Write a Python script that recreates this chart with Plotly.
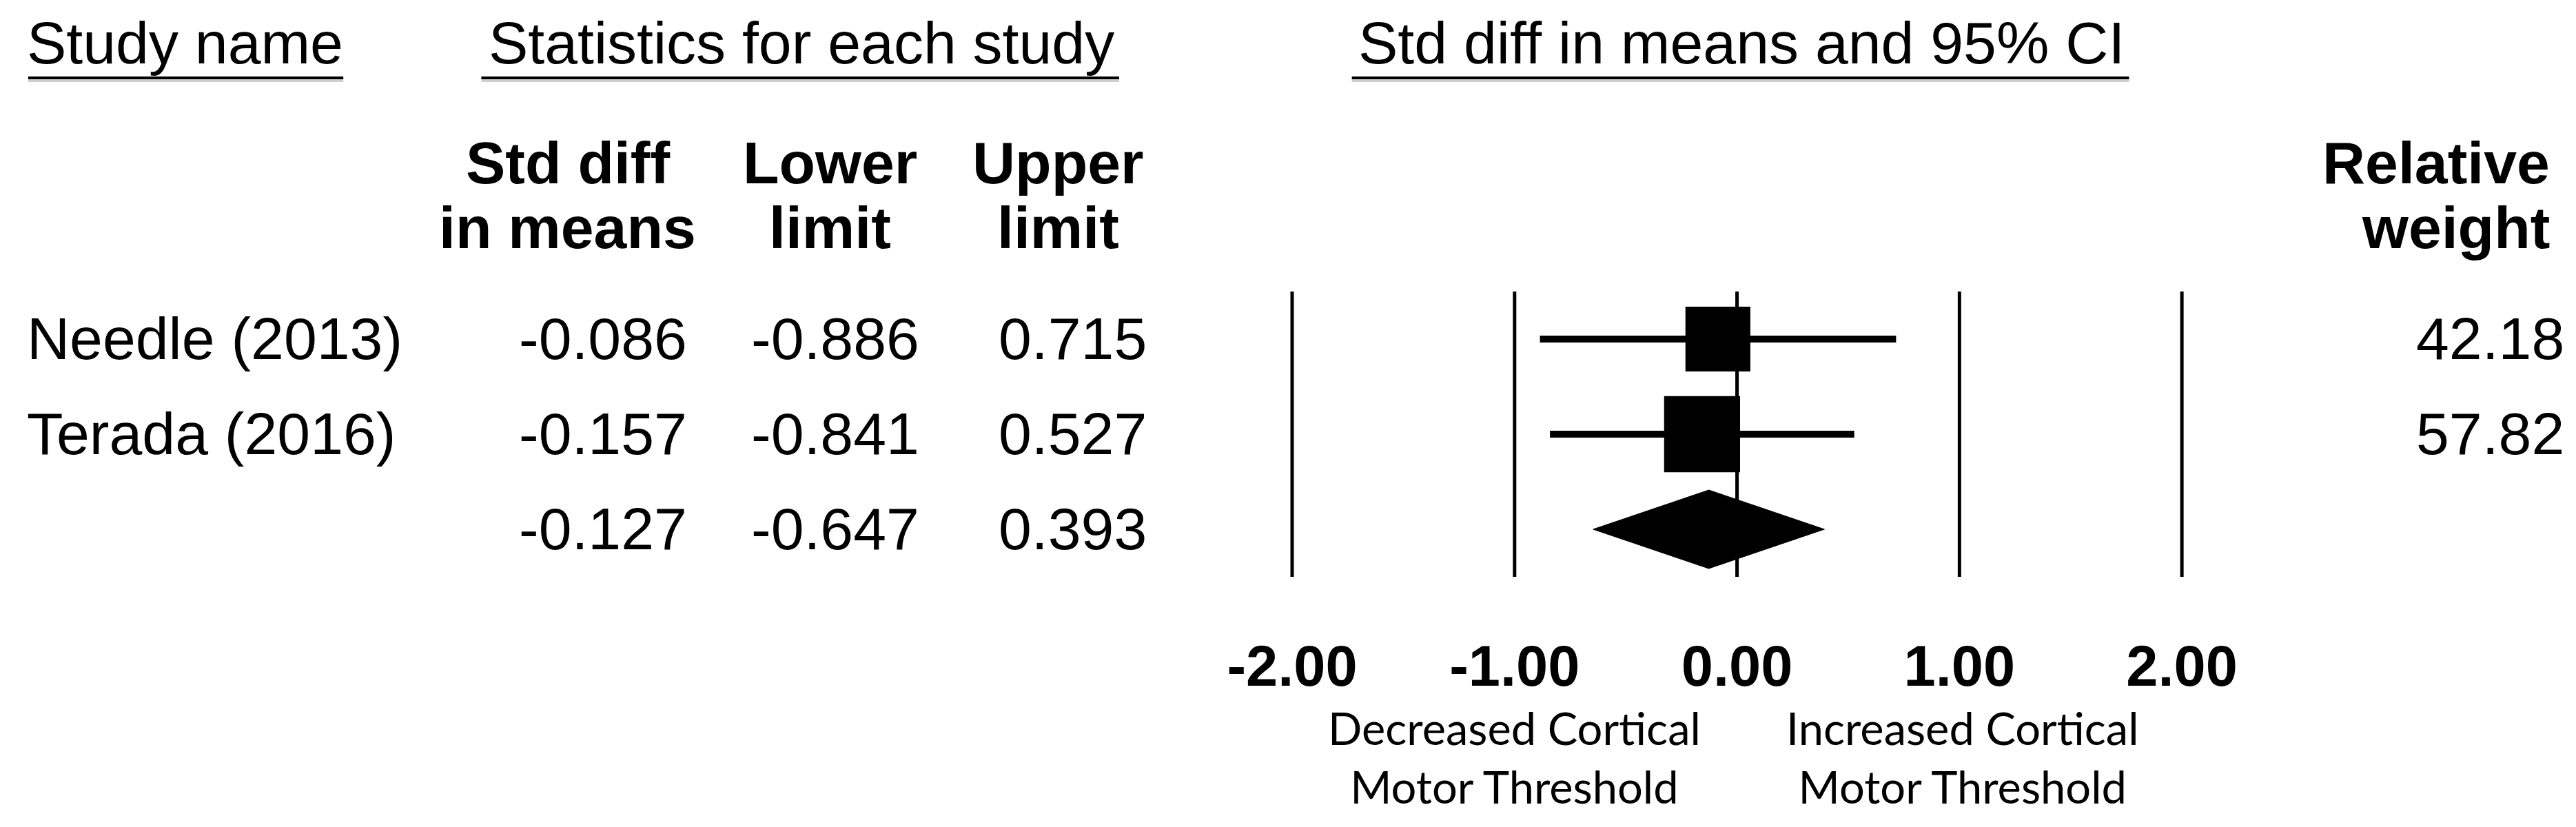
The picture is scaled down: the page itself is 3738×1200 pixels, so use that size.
import plotly.graph_objects as go

# ---- data ----
studies = ["Needle (2013)", "Terada (2016)"]
std_diff = [-0.086, -0.157]
lower_limit = [-0.886, -0.841]
upper_limit = [0.715, 0.527]
rel_weight = [42.18, 57.82]

summary_est = -0.127
summary_lower = -0.647
summary_upper = 0.393

ref_lines = [-2, -1, 0, 1, 2]

# page body has an 8px margin, so the figure is drawn 16px smaller and offset
PAGE_W, PAGE_H, BODY = 3738, 1200, 8
W, H = PAGE_W - 2 * BODY, PAGE_H - 2 * BODY
ROW0, ROWH = 492, 138          # pixel y of first row, row spacing (page coords)
FONT = "Arial, Liberation Sans, sans-serif"
CAPTION_FONT = "Lato, Open Sans, sans-serif"
FS = 86


def px(x):
    return (x - BODY) / W


def py(y):
    return 1 - (y - BODY) / H


def row_of(ypix):
    return (ypix - ROW0) / ROWH


n = len(studies)
summary_row = n

data = []

# reference lines
for v in ref_lines:
    data.append(go.Scatter(x=[v, v], y=[-0.5, summary_row + 0.5], mode="lines",
                           line=dict(color="black", width=5), hoverinfo="skip"))

# CI whiskers
for i in range(n):
    data.append(go.Scatter(x=[lower_limit[i], upper_limit[i]], y=[i, i], mode="lines",
                           line=dict(color="black", width=10), hoverinfo="skip"))

# point estimates, box size by weight
data.append(go.Scatter(x=std_diff, y=list(range(n)), mode="markers", opacity=1,
                       marker=dict(symbol="square", color="#000000", opacity=1,
                                   size=[14.5 * w ** 0.5 for w in rel_weight],
                                   line=dict(width=0)),
                       hoverinfo="skip"))

# summary diamond
dh = 0.413
data.append(go.Scatter(x=[summary_lower, summary_est, summary_upper, summary_est, summary_lower],
                       y=[summary_row, summary_row - dh, summary_row, summary_row + dh, summary_row],
                       mode="lines", fill="toself", fillcolor="black",
                       line=dict(color="black", width=1), hoverinfo="skip"))

annotations = []


def text(x, y, s, xanchor="left", yref="paper", size=FS, family=FONT, yshift=1):
    annotations.append(dict(x=x, y=y, xref="paper", yref=yref, text=s, showarrow=False,
                            xanchor=xanchor, yanchor="middle", yshift=yshift,
                            font=dict(family=family, size=size, color="black")))


# top headers
text(px(23), py(63), "Study name")
text(px(696), py(63), "Statistics for each study")
text(px(1962), py(63), "Std diff in means and 95% CI")

# column headers
for cx, l1, l2 in [(813, "Std diff", "in means"), (1195, "Lower", "limit"), (1527, "Upper", "limit")]:
    text(px(cx), py(237), "<b>%s</b>" % l1, xanchor="center")
    text(px(cx), py(331), "<b>%s</b>" % l2, xanchor="center")
text(px(3702), py(237), "<b>Relative</b>", xanchor="right")
text(px(3702), py(331), "<b>weight</b>", xanchor="right")

# rows
col_right = [989, 1327, 1658]
for i in range(n):
    text(px(23), i, studies[i], yref="y")
    for cx, v in zip(col_right, [std_diff[i], lower_limit[i], upper_limit[i]]):
        text(px(cx), i, "%.3f" % v, xanchor="right", yref="y")
    text(px(3723), i, "%.2f" % rel_weight[i], xanchor="right", yref="y")
for cx, v in zip(col_right, [summary_est, summary_lower, summary_upper]):
    text(px(cx), summary_row, "%.3f" % v, xanchor="right", yref="y")

# captions under the axis
text(px(2192), py(1101), "Decreased Cortical<br>Motor Threshold", xanchor="center",
     size=65, family=CAPTION_FONT, yshift=3)
text(px(2845), py(1101), "Increased Cortical<br>Motor Threshold", xanchor="center",
     size=65, family=CAPTION_FONT, yshift=3)

# header underlines with a faint shadow
shapes = []
for x0, x1 in [(27, 486), (687, 1616), (1955, 3087)]:
    shapes.append(dict(type="line", xref="paper", yref="paper", x0=px(x0), x1=px(x1),
                       y0=py(117), y1=py(117), line=dict(color="#cfcfcf", width=4)))
    shapes.append(dict(type="line", xref="paper", yref="paper", x0=px(x0), x1=px(x1),
                       y0=py(113), y1=py(113), line=dict(color="black", width=4)))

plot_bottom = 911
x_left = 1868 - 0.25 * 324
x_right = 3164 + 0.25 * 324

layout = go.Layout(
    width=W, height=H,
    margin=dict(l=0, r=0, t=0, b=0),
    paper_bgcolor="white", plot_bgcolor="white",
    showlegend=False,
    xaxis=dict(domain=[px(x_left), px(x_right)], range=[-2.25, 2.25],
               tickvals=ref_lines, ticktext=["<b>%.2f</b>" % v for v in ref_lines],
               tickfont=dict(family=FONT, size=83, color="black"),
               showgrid=False, zeroline=False, showline=False, ticks=""),
    yaxis=dict(domain=[py(plot_bottom), 1], range=[row_of(plot_bottom), row_of(BODY)],
               showgrid=False, zeroline=False, showline=False, showticklabels=False),
    annotations=annotations,
    shapes=shapes,
)

fig = go.Figure(data=data, layout=layout)
fig.write_html("out.html")
